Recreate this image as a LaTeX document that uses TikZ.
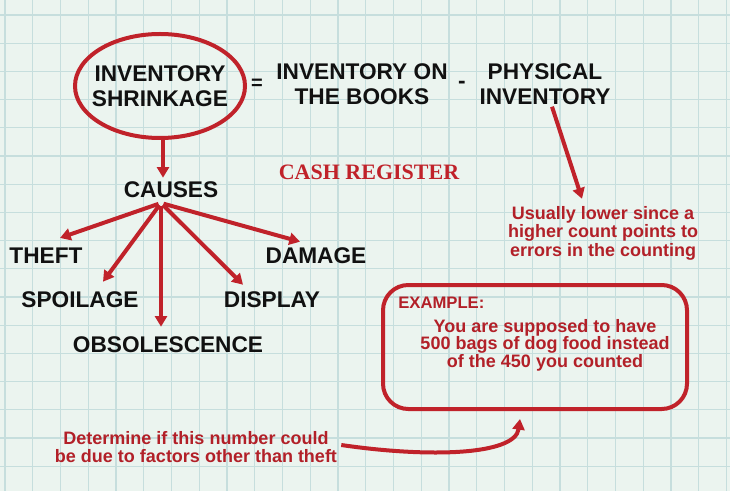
\documentclass[tikz,border=0pt]{standalone}
\usepackage{fontspec}
\setmainfont{Liberation Sans}
\newfontfamily\cashfont{Liberation Serif}
\usetikzlibrary{arrows.meta}
\definecolor{paper}{RGB}{235, 244, 239}
\definecolor{gridline}{RGB}{198, 222, 221}
\definecolor{crimson}{RGB}{192, 34, 42}
\definecolor{darkcrimson}{RGB}{178, 32, 40}
\definecolor{inkblack}{RGB}{17, 17, 17}

\begin{document}
\begin{tikzpicture}[x=0.75pt, y=-0.75pt,
    bigtxt/.style={font=\bfseries\fontsize{17}{18.6}\selectfont, text=inkblack, align=center, inner sep=0pt},
    redtxt/.style={font=\bfseries\fontsize{13.5}{13.9}\selectfont, text=darkcrimson, align=center, inner sep=0pt},
    redline/.style={draw=crimson, line width=3pt},
    arr/.style={redline, -{Triangle[length=8pt, width=9pt]}}]
    \useasboundingbox (0,0) rectangle (730,491);
    \fill[paper] (0,0) rectangle (730,491);
    \foreach \i in {0,...,26}
        \draw[gridline, line width=1pt] ({5+27.75*\i},0) -- ({5+27.75*\i},491);
    \foreach \j in {0,...,17}
        \draw[gridline, line width=1pt] (0,{15+28.2*\j}) -- (730,{15+28.2*\j});

    \node[bigtxt] (shrink) at (160,86) {INVENTORY\\SHRINKAGE};
    \draw[redline] (shrink.center) ellipse (85 and 52);
    \node[bigtxt, font=\bfseries\fontsize{15}{15}\selectfont] (equals) at (257,84) {=};
    \node[bigtxt] (books) at (362,84) {INVENTORY ON\\THE BOOKS};
    \node[bigtxt] (minus) at (462,85) {-};
    \node[bigtxt] (physical) at (545,84) {PHYSICAL\\INVENTORY};
    \node[font=\cashfont\bfseries\fontsize{16.5}{18}\selectfont, text=crimson, inner sep=0pt] (register) at (369,172) {CASH REGISTER};

    \node[bigtxt] (causes) at (171,190) {CAUSES};
    \node[bigtxt] (theft) at (46,256) {THEFT};
    \node[bigtxt] (damage) at (316,256) {DAMAGE};
    \node[bigtxt] (spoilage) at (80,300) {SPOILAGE};
    \node[bigtxt] (display) at (272,300) {DISPLAY};
    \node[bigtxt] (obsolescence) at (168,345) {OBSOLESCENCE};
    \coordinate (hub) at ([shift={(-10,13)}]causes.center);

    \draw[arr] ([shift={(3,52)}]shrink.center) -- ([shift={(-8,-4)}]causes.north);
    \draw[arr, shorten <=2pt] (hub) -- ([shift={(14,-10)}]theft.north);
    \draw[arr, shorten <=2pt] (hub) -- ([shift={(23,-10)}]spoilage.north);
    \draw[arr, shorten <=2pt] (hub) -- ([shift={(-7,-10)}]obsolescence.north);
    \draw[arr, shorten <=2pt] (hub) -- ([shift={(-29,-7)}]display.north);
    \draw[arr, shorten <=2pt] (hub) -- ([shift={(-16,-6)}]damage.north);

    \node[redtxt] (usual) at (603,233) {Usually lower since a\\higher count points to\\errors in the counting};
    \draw[arr] ([shift={(7,2)}]physical.south) -- ([shift={(-21,-7)}]usual.north);

    \node[redline, rounded corners=19pt, minimum width=228pt, minimum height=93pt, inner sep=0pt] (example) at (535,347) {};
    \node[redtxt, font=\bfseries\fontsize{12.5}{14}\selectfont, anchor=west] (exlabel) at (398,303) {EXAMPLE:};
    \node[redtxt, font=\bfseries\fontsize{13.5}{13.1}\selectfont] (exbody) at (545,345) {You are supposed to have\\500 bags of dog food instead\\of the 450 you counted};

    \node[redtxt] (determine) at (196,447) {Determine if this number could\\be due to factors other than theft};
    \draw[arr] ([shift={(4,-2)}]determine.east) .. controls (430,458) and (515,455) .. ([shift={(-15,8)}]example.south);
\end{tikzpicture}
\end{document}
